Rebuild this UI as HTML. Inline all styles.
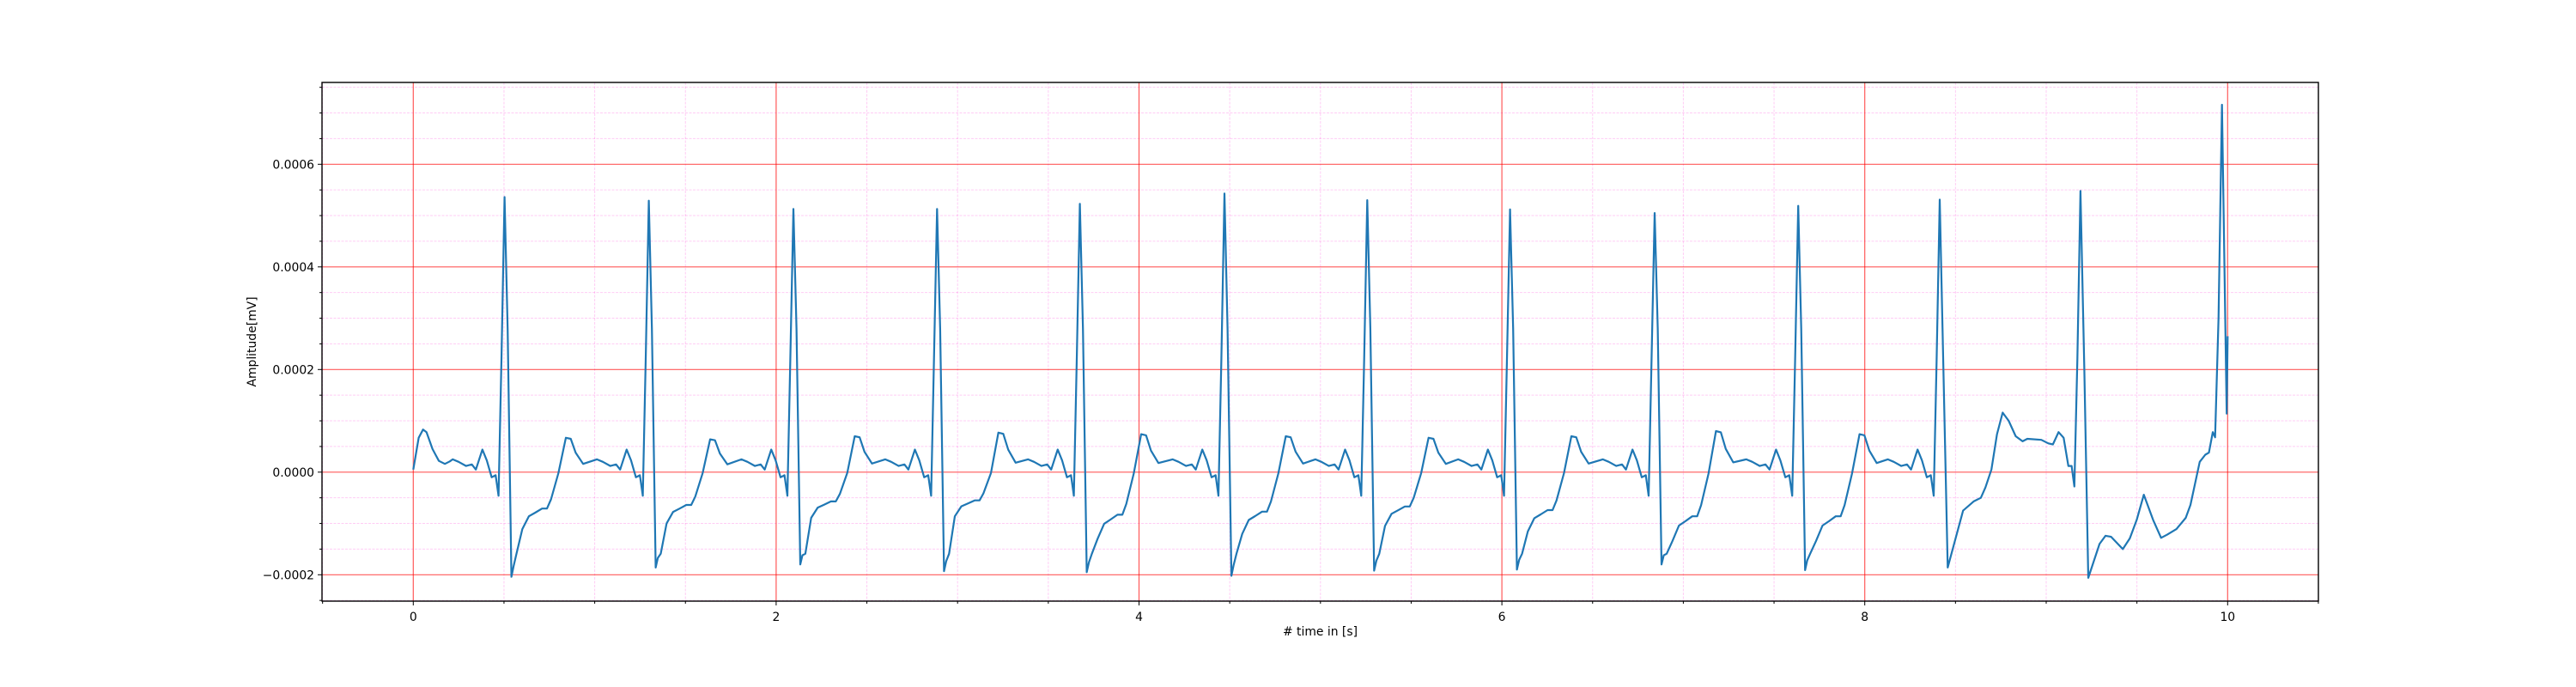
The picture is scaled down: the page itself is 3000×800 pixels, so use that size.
<!DOCTYPE html>
<html><head><meta charset="utf-8">
<style>
html,body{margin:0;padding:0;background:#fff;}
svg{display:block;}
text{font-family:"DejaVu Sans","Liberation Sans",sans-serif;font-size:13.9px;fill:#000;}
</style></head>
<body>
<svg id="chart" width="3000" height="800" viewBox="0 0 3000 800" xmlns="http://www.w3.org/2000/svg">
<rect x="0" y="0" width="3000" height="800" fill="#fff"/>
<g id="grid"></g>
<g id="series"></g>
<g id="axes"></g>
<text x="1537.5" y="740" text-anchor="middle"># time in [s]</text>
<text transform="translate(298,398) rotate(-90)" text-anchor="middle">Amplitude[mV]</text>
</svg>
<script>
// ---- data ----
const xTicks = [0, 2, 4, 6, 8, 10];
const xTickLabels = ["0", "2", "4", "6", "8", "10"];
const yTicks = [-0.0002, 0, 0.0002, 0.0004, 0.0006];
const yTickLabels = ["\u22120.0002", "0.0000", "0.0002", "0.0004", "0.0006"];
// R-peak times, amplitudes, S amplitudes, ST levels, T amplitudes for regular beats
const rTimes = [0.503, 1.298, 2.095, 2.887, 3.674, 4.471, 5.258, 6.045, 6.842, 7.633, 8.413];
const rAmps = [0.000536, 0.000529, 0.000513, 0.000513, 0.000523, 0.000543, 0.000530, 0.000512, 0.000505, 0.000519, 0.000531];
const sAmps = [-0.000204, -0.000186, -0.000180, -0.000193, -0.000195, -0.000202, -0.000192, -0.000190, -0.000180, -0.000191];
const stLevels = [-0.000071, -0.000064, -0.000057, -0.000055, -0.000083, -0.000077, -0.000067, -0.000074, -0.000086, -0.000086];
const tAmps = [0.000067, 0.000064, 0.000070, 0.000077, 0.000074, 0.000070, 0.000067, 0.000070, 0.000080, 0.000074];
// beat shape read from first beat (times relative to R peak)
const postTimes = [0.017, 0.038, 0.05, 0.066, 0.098, 0.134, 0.169, 0.207, 0.234, 0.256, 0.297, 0.338, 0.365, 0.392, 0.433];
const postValues = [0.00028, -0.000204, -0.000185, -0.000159, -0.000111, -0.000086, -0.000079, -0.000071, -0.000071, -0.000053, -0.000002, 0.000067, 0.000065, 0.000038, 0.000016];
// pre-R shape (times relative to next R peak)
const preTimes = [-0.286, -0.253, -0.212, -0.18, -0.158, -0.122, -0.098, -0.071, -0.049, -0.033, -0.017];
const preValues = [0.000025, 0.00002, 0.000012, 0.000015, 0.000005, 0.000044, 0.000023, -0.00001, -0.000006, -0.000046, 0.00022];
// start of record
const headTimes = [0, 0.03, 0.054, 0.073, 0.106, 0.141, 0.174, 0.201];
const headValues = [0.000005, 0.000067, 0.000083, 0.000078, 0.000045, 0.000022, 0.000016, 0.000021];
// irregular end of record (after R at 8.413)
const tailTimes = [8.457, 8.542, 8.6, 8.64, 8.665, 8.698, 8.729, 8.76, 8.793, 8.832, 8.87, 8.896, 8.973, 9.012, 9.037, 9.068, 9.096, 9.122, 9.14, 9.155, 9.172, 9.189, 9.21, 9.232, 9.294, 9.327, 9.358, 9.422, 9.461, 9.499, 9.538, 9.589, 9.633, 9.666, 9.718, 9.769, 9.795, 9.846, 9.877, 9.897, 9.918, 9.931, 9.95, 9.969, 9.995, 10.0];
const tailValues = [-0.000186, -0.000075, -0.000057, -0.00005, -0.00003, 0.000005, 0.000074, 0.000116, 0.0001, 0.00007, 0.00006, 0.000065, 0.000063, 0.000056, 0.000054, 0.000078, 0.000067, 0.000012, 0.000012, -0.000028, 0.00022, 0.000548, 0.0002, -0.000206, -0.00014, -0.000124, -0.000126, -0.00015, -0.000129, -0.000093, -0.000044, -0.000093, -0.000128, -0.000122, -0.000111, -0.000089, -0.000064, 0.00002, 0.000034, 0.000038, 0.000078, 0.000068, 0.0003, 0.000716, 0.000114, 0.000265];

// ---- scales ----
const X0 = 481.3, XS = 211.3, Y0 = 549.8, YS = 597500;
const L = 375, R = 2700, T = 96, B = 700;
const sx = t => X0 + t * XS;
const sy = v => Y0 - v * YS;
const NS = "http://www.w3.org/2000/svg";
function mk(tag, attrs, parent) {
  const e = document.createElementNS(NS, tag);
  for (const k in attrs) e.setAttribute(k, attrs[k]);
  parent.appendChild(e);
  return e;
}

// ---- grid ----
const grid = document.getElementById("grid");
for (let k = -1; k <= 21; k++) {
  const t = k * 0.5;
  const x = sx(t);
  if (x < L || x > R) continue;
  if (k % 4 === 0) continue;
  const ln = mk("line", {x1: x, x2: x, y1: T, y2: B, stroke: "rgba(255,0,200,0.2)", "stroke-width": 1, "stroke-dasharray": "3,1.5"}, grid);
  
  
}
for (let k = -6; k <= 16; k++) {
  const v = k * 0.00005;
  const y = sy(v);
  if (y < T - 0.5 || y > B + 0.5) continue;
  if (k % 4 === 0) continue;
  const ln = mk("line", {x1: L, x2: R, y1: y, y2: y, stroke: "rgba(255,0,200,0.2)", "stroke-width": 1, "stroke-dasharray": "3,1.5"}, grid);
  
  
}
xTicks.forEach(t => {
  const ln = mk("line", {x1: sx(t), x2: sx(t), y1: T, y2: B, stroke: "rgba(255,0,0,0.65)", "stroke-width": 1.2}, grid);
  
  
});
yTicks.forEach(v => {
  const ln = mk("line", {x1: L, x2: R, y1: sy(v), y2: sy(v), stroke: "rgba(255,0,0,0.65)", "stroke-width": 1.2}, grid);
  
  
});

// ---- series ----
const pts = [];
headTimes.forEach((t, i) => pts.push([t, headValues[i]]));
for (let b = 0; b < rTimes.length; b++) {
  preTimes.forEach((t, i) => pts.push([rTimes[b] + t, preValues[i]]));
  pts.push([rTimes[b], rAmps[b]]);
  if (b < sAmps.length) {
    postTimes.forEach((t, i) => {
      let v = postValues[i];
      if (i === 1) v = sAmps[b];
      else if (i === 2) v = sAmps[b] * 0.9;
      else if (i >= 4 && v < 0) v = v * stLevels[b] / -0.000071;
      else if (i >= 10 && v > 0) v = v * tAmps[b] / 0.000067;
      pts.push([rTimes[b] + t, v]);
    });
  }
}
tailTimes.forEach((t, i) => pts.push([t, tailValues[i]]));
const series = document.getElementById("series");
const line = mk("polyline", {points: pts.map(p => sx(p[0]).toFixed(1) + "," + sy(p[1]).toFixed(1)).join(" "), fill: "none", stroke: "#1f77b4", "stroke-width": 2.2, "stroke-linejoin": "round"}, series);



// ---- axes ----
const axes = document.getElementById("axes");
const frame = mk("rect", {x: L, y: T, width: R - L, height: B - T, fill: "none", stroke: "#000", "stroke-width": 1.4}, axes);


for (let k = -1; k <= 21; k++) {
  const x = sx(k * 0.5);
  if (x < L || x > R) continue;
  const len = (k % 4 === 0) ? 5 : 3;
  const tk = mk("line", {x1: x, x2: x, y1: B, y2: B + len, stroke: "#000", "stroke-width": 1}, axes);
  
  
}
for (let k = -6; k <= 16; k++) {
  const y = sy(k * 0.00005);
  if (y < T - 0.5 || y > B + 0.5) continue;
  const len = (k % 4 === 0) ? 5 : 3;
  const tk = mk("line", {x1: L - len, x2: L, y1: y, y2: y, stroke: "#000", "stroke-width": 1}, axes);
  
  
}
xTicks.forEach((t, i) => {
  const tx = mk("text", {x: sx(t), y: B + 23, "text-anchor": "middle"}, axes);
  tx.textContent = xTickLabels[i];
  
  
});
yTicks.forEach((v, i) => {
  const tx = mk("text", {x: L - 9, y: sy(v) + 5, "text-anchor": "end"}, axes);
  tx.textContent = yTickLabels[i];
  
  
});
</script>
</body></html>
